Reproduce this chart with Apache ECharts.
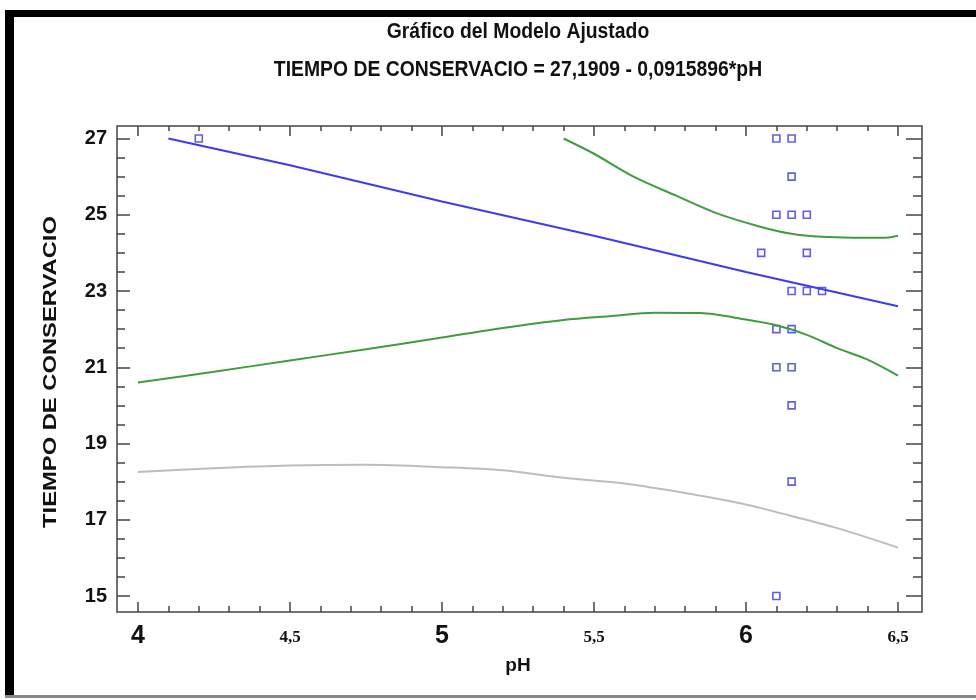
<!DOCTYPE html>
<html>
<head>
<meta charset="utf-8">
<script src="https://cdn.jsdelivr.net/npm/echarts@6/dist/echarts.min.js"></script>
<style>
  body { margin: 0; background: #fff; }
  #main { width: 976px; height: 700px; }
</style>
</head>
<body>
<div id="main"></div>
<script>
// observed points (pH, tiempo)
var obsPh = [4.2, 6.1, 6.15, 6.15, 6.1, 6.15, 6.2, 6.05, 6.2, 6.15, 6.2, 6.25, 6.1, 6.15, 6.1, 6.15, 6.15, 6.15, 6.1];
var obsTiempo = [27, 27, 27, 26, 25, 25, 25, 24, 24, 23, 23, 23, 22, 22, 21, 21, 20, 18, 15];

// fitted line
var fitPh = [4.1, 4.5, 5.0, 5.5, 6.0, 6.5];
var fitTiempo = [27.0, 26.3, 25.35, 24.45, 23.5, 22.6];

// upper confidence limit
var upPh = [5.4, 5.5, 5.63, 5.77, 5.9, 6.05, 6.15, 6.25, 6.35, 6.46, 6.5];
var upTiempo = [27.0, 26.6, 26.0, 25.5, 25.05, 24.68, 24.5, 24.42, 24.4, 24.4, 24.45];

// lower confidence limit
var lowPh = [4.0, 4.25, 4.5, 4.75, 5.0, 5.2, 5.4, 5.55, 5.7, 5.85, 6.0, 6.1, 6.2, 6.3, 6.4, 6.5];
var lowTiempo = [20.6, 20.88, 21.18, 21.47, 21.78, 22.03, 22.24, 22.34, 22.43, 22.42, 22.25, 22.1, 21.85, 21.5, 21.2, 20.78];

// lower prediction limit
var predPh = [4.0, 4.25, 4.5, 4.75, 5.0, 5.2, 5.4, 5.6, 5.8, 6.0, 6.1, 6.3, 6.5];
var predTiempo = [18.25, 18.35, 18.42, 18.44, 18.38, 18.3, 18.1, 17.95, 17.7, 17.4, 17.2, 16.78, 16.27];

function zip(a, b) {
  return a.map(function (v, i) { return [v, b[i]]; });
}

var chart = echarts.init(document.getElementById('main'));

var tickStyle = { color: '#444', width: 1.5 };
var boldFont = '"Liberation Sans", Arial, sans-serif';

var option = {
  animation: false,
  backgroundColor: '#fff',
  grid: { left: 138, right: 78, top: 138.5, bottom: 104 },
  graphic: [
    // outer frame of the picture
    { type: 'rect', shape: { x: 5, y: 10, width: 971, height: 7 }, style: { fill: '#000' } },
    { type: 'rect', shape: { x: 5, y: 10, width: 9, height: 688 }, style: { fill: '#000' } },
    { type: 'rect', shape: { x: 5, y: 695, width: 971, height: 3 }, style: { fill: '#888' } },
    // plot box
    { type: 'rect', shape: { x: 117, y: 126, width: 805, height: 486 }, style: { fill: 'none', stroke: '#444', lineWidth: 1.5 } },
    {
      type: 'text', x: 518, y: 32, scaleX: 0.88,
      style: { text: 'Gráfico del Modelo Ajustado', font: 'bold 22px ' + boldFont, fill: '#111', textAlign: 'center', textVerticalAlign: 'middle' }
    },
    {
      type: 'text', x: 518, y: 70, scaleX: 0.88,
      style: { text: 'TIEMPO DE CONSERVACIO = 27,1909 - 0,0915896*pH', font: 'bold 22px ' + boldFont, fill: '#111', textAlign: 'center', textVerticalAlign: 'middle' }
    },
    {
      type: 'text', x: 51, y: 372, rotation: Math.PI / 2, scaleX: 1.25,
      style: { text: 'TIEMPO DE CONSERVACIO', font: 'bold 19px ' + boldFont, fill: '#111', textAlign: 'center', textVerticalAlign: 'middle' }
    }
  ],
  xAxis: [
    {
      type: 'value', position: 'bottom', offset: 16,
      min: 4, max: 6.5, interval: 0.5,
      name: 'pH', nameLocation: 'middle', nameGap: 44,
      nameTextStyle: { fontFamily: 'Liberation Sans', fontWeight: 'bold', fontSize: 19, color: '#111' },
      axisLine: { show: false },
      axisTick: { inside: true, length: 10, lineStyle: tickStyle },
      minorTick: { show: true, splitNumber: 5, length: 6, lineStyle: tickStyle },
      splitLine: { show: false },
      axisLabel: {
        margin: 12, color: '#111',
        formatter: function (v) {
          return v % 1 === 0 ? '{big|' + v + '}' : '{small|' + String(v).replace('.', ',') + '}';
        },
        rich: {
          big: { fontFamily: 'Liberation Sans', fontWeight: 'bold', fontSize: 25, color: '#111' },
          small: { fontFamily: 'Liberation Serif', fontWeight: 'bold', fontSize: 17, color: '#111', padding: [5, 0, 0, 0] }
        }
      }
    },
    {
      type: 'value', position: 'top', offset: 12.5,
      min: 4, max: 6.5, interval: 0.5,
      axisLine: { show: false },
      axisTick: { inside: true, length: 10, lineStyle: tickStyle },
      minorTick: { show: true, splitNumber: 5, length: 5, lineStyle: tickStyle },
      splitLine: { show: false },
      axisLabel: { show: false }
    }
  ],
  yAxis: [
    {
      type: 'value', position: 'left', offset: 21,
      min: 15, max: 27, interval: 2,
      axisLine: { show: false },
      axisTick: { inside: true, length: 13, lineStyle: tickStyle },
      minorTick: { show: true, splitNumber: 4, length: 8, lineStyle: tickStyle },
      splitLine: { show: false },
      axisLabel: { margin: 10, fontFamily: 'Liberation Sans', fontWeight: 'bold', fontSize: 20, color: '#111' }
    },
    {
      type: 'value', position: 'right', offset: 24,
      min: 15, max: 27, interval: 2,
      axisLine: { show: false },
      axisTick: { inside: true, length: 16, lineStyle: tickStyle },
      minorTick: { show: true, splitNumber: 4, length: 9, lineStyle: tickStyle },
      splitLine: { show: false },
      axisLabel: { show: false }
    }
  ],
  series: [
    {
      name: 'Predicción inferior', type: 'line', data: zip(predPh, predTiempo),
      showSymbol: false, smooth: 0.3, clip: false,
      lineStyle: { color: '#bdbdbd', width: 2 }
    },
    {
      name: 'Confianza inferior', type: 'line', data: zip(lowPh, lowTiempo),
      showSymbol: false, smooth: 0.3, clip: false,
      lineStyle: { color: '#3f9c3f', width: 2 }
    },
    {
      name: 'Confianza superior', type: 'line', data: zip(upPh, upTiempo),
      showSymbol: false, smooth: 0.3, clip: false,
      lineStyle: { color: '#3f9c3f', width: 2 }
    },
    {
      name: 'Modelo', type: 'line', data: zip(fitPh, fitTiempo),
      showSymbol: false, clip: false,
      lineStyle: { color: '#3b3bf2', width: 2 }
    },
    {
      name: 'Observado', type: 'scatter', data: zip(obsPh, obsTiempo),
      symbol: 'rect', symbolSize: 7, clip: false,
      itemStyle: { color: '#fff', borderColor: '#3636e6', borderWidth: 1.6 }
    }
  ]
};

chart.setOption(option);
</script>
</body>
</html>
